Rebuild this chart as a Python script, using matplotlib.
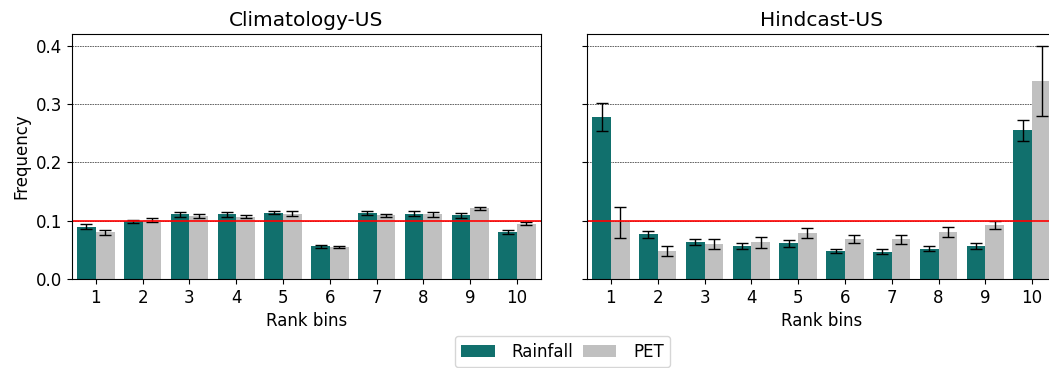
import numpy as np
import matplotlib.pyplot as plt

bins = np.arange(1, 11)

# Climatology-US
clim_rain = [0.090, 0.099, 0.111, 0.111, 0.114, 0.056, 0.113, 0.112, 0.109, 0.081]
clim_rain_err = [0.004, 0.003, 0.004, 0.004, 0.003, 0.002, 0.003, 0.004, 0.004, 0.003]
clim_pet = [0.080, 0.101, 0.108, 0.107, 0.112, 0.055, 0.109, 0.111, 0.121, 0.095]
clim_pet_err = [0.004, 0.004, 0.004, 0.003, 0.004, 0.002, 0.003, 0.004, 0.003, 0.003]

# Hindcast-US
hind_rain = [0.277, 0.077, 0.063, 0.057, 0.061, 0.048, 0.047, 0.052, 0.057, 0.255]
hind_rain_err = [0.024, 0.006, 0.005, 0.005, 0.006, 0.004, 0.004, 0.004, 0.005, 0.018]
hind_pet = [0.097, 0.048, 0.060, 0.063, 0.079, 0.069, 0.068, 0.081, 0.093, 0.340]
hind_pet_err = [0.026, 0.008, 0.008, 0.009, 0.009, 0.007, 0.008, 0.009, 0.007, 0.060]

rain_color = "#11706d"
pet_color = "#c0c0c0"
w = 0.4

fig = plt.figure(figsize=(10.49, 3.68), dpi=100)
ax1 = fig.add_axes([0.0686, 0.2418, 0.4471, 0.6658])
ax2 = fig.add_axes([0.5596, 0.2418, 0.4471, 0.6658], sharey=ax1)

panels = [
    (ax1, "Climatology-US", clim_rain, clim_rain_err, clim_pet, clim_pet_err),
    (ax2, "Hindcast-US", hind_rain, hind_rain_err, hind_pet, hind_pet_err),
]

for ax, title, rain, rain_err, pet, pet_err in panels:
    ax.set_axisbelow(True)
    ax.yaxis.grid(True, linestyle=(0, (2, 1)), color="0.3", linewidth=0.6)
    ax.bar(bins - w / 2, rain, w, yerr=rain_err, color=rain_color,
           capsize=4, error_kw=dict(elinewidth=1, ecolor="black"), label="Rainfall")
    ax.bar(bins + w / 2, pet, w, yerr=pet_err, color=pet_color,
           capsize=4, error_kw=dict(elinewidth=1, ecolor="black"), label="PET")
    ax.axhline(0.1, color="red", linewidth=1.2)
    ax.set_title(title, fontsize=14.5)
    ax.set_xlabel("Rank bins", fontsize=12)
    ax.set_xticks(bins)
    ax.set_xlim(0.49, 10.51)
    ax.tick_params(labelsize=12)

ax1.set_ylim(0, 0.42)
ax1.set_yticks([0.0, 0.1, 0.2, 0.3, 0.4])
ax1.set_ylabel("Frequency", fontsize=12)
ax2.tick_params(labelleft=False)

handles, labels = ax1.get_legend_handles_labels()
fig.legend(handles, labels, loc="lower center", ncol=2, fontsize=12,
           bbox_to_anchor=(0.5362, -0.021), handlelength=2.0,
           handletextpad=1.0, columnspacing=0.6)

fig.savefig("out.png", dpi=100)
